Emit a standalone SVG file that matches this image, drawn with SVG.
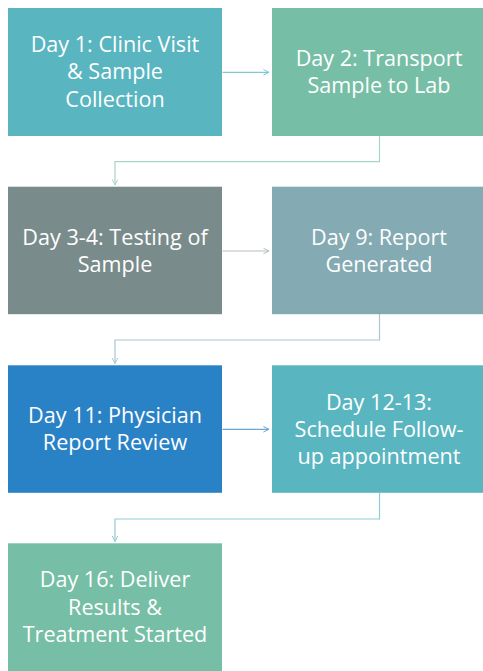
<svg xmlns="http://www.w3.org/2000/svg" width="483" height="671" viewBox="0 0 483 671">
<defs>
<style>
.box text{font-family:"Open Sans","Liberation Sans",sans-serif;font-size:21.6px;fill:#ffffff;text-anchor:middle}
.conn path{fill:none;stroke-width:1.2}
</style>
<marker id="a1" viewBox="0 0 10 10" refX="9" refY="5" markerWidth="7" markerHeight="7" markerUnits="userSpaceOnUse" orient="auto"><path d="M1,1 L9,5 L1,9" fill="none" stroke="#7fcad2" stroke-width="1.4"/></marker>
<marker id="e1" viewBox="0 0 10 10" refX="9" refY="5" markerWidth="7" markerHeight="7" markerUnits="userSpaceOnUse" orient="auto"><path d="M1,1 L9,5 L1,9" fill="none" stroke="#a7d6c6" stroke-width="1.4"/></marker>
<marker id="a2" viewBox="0 0 10 10" refX="9" refY="5" markerWidth="7" markerHeight="7" markerUnits="userSpaceOnUse" orient="auto"><path d="M1,1 L9,5 L1,9" fill="none" stroke="#b4bdbd" stroke-width="1.4"/></marker>
<marker id="e2" viewBox="0 0 10 10" refX="9" refY="5" markerWidth="7" markerHeight="7" markerUnits="userSpaceOnUse" orient="auto"><path d="M1,1 L9,5 L1,9" fill="none" stroke="#abc6cc" stroke-width="1.4"/></marker>
<marker id="a3" viewBox="0 0 10 10" refX="9" refY="5" markerWidth="7" markerHeight="7" markerUnits="userSpaceOnUse" orient="auto"><path d="M1,1 L9,5 L1,9" fill="none" stroke="#6aa7d9" stroke-width="1.4"/></marker>
<marker id="e3" viewBox="0 0 10 10" refX="9" refY="5" markerWidth="7" markerHeight="7" markerUnits="userSpaceOnUse" orient="auto"><path d="M1,1 L9,5 L1,9" fill="none" stroke="#92ccd3" stroke-width="1.4"/></marker>
</defs>
<rect width="483" height="671" fill="#ffffff"/>
<g id="connectors" class="conn">
<path d="M222.5,72.3 H269" stroke="#7fcad2" marker-end="url(#a1)"/>
<path d="M379.5,136 V161.7 H115 V185" stroke="#a7d6c6" marker-end="url(#e1)"/>
<path d="M222.5,251 H269" stroke="#b4bdbd" marker-end="url(#a2)"/>
<path d="M379.5,314 V340 H115 V363.5" stroke="#abc6cc" marker-end="url(#e2)"/>
<path d="M222.5,429.3 H269" stroke="#6aa7d9" marker-end="url(#a3)"/>
<path d="M379.5,493 V519 H115 V541.5" stroke="#92ccd3" marker-end="url(#e3)"/>
</g>
<g id="n1" class="box">
<rect x="8" y="8" width="214" height="128" fill="#59b5bf"/>
<text x="115" y="51.7">Day 1: Clinic Visit</text>
<text x="115" y="79.3">&amp; Sample</text>
<text x="115" y="106.7">Collection</text>
</g>
<g id="n2" class="box">
<rect x="272" y="8" width="214" height="128" fill="#76bea5"/>
<text x="379" y="66">Day 2: Transport</text>
<text x="379" y="93">Sample to Lab</text>
</g>
<g id="n3" class="box">
<rect x="8" y="186.7" width="214" height="127.5" fill="#7a8b8b"/>
<text x="115" y="244.6">Day 3-4: Testing of</text>
<text x="115" y="271.7">Sample</text>
</g>
<g id="n4" class="box">
<rect x="272" y="186.7" width="214" height="127.5" fill="#84aab3"/>
<text x="379" y="244.6">Day 9: Report</text>
<text x="379" y="271.7">Generated</text>
</g>
<g id="n5" class="box">
<rect x="8" y="365.3" width="214" height="127.5" fill="#2a82c6"/>
<text x="115" y="423.2">Day 11: Physician</text>
<text x="115" y="450.2">Report Review</text>
</g>
<g id="n6" class="box">
<rect x="272" y="365.3" width="214" height="127.5" fill="#59b5bf"/>
<text x="379" y="409.5">Day 12-13:</text>
<text x="379" y="436.8">Schedule Follow-</text>
<text x="379" y="464">up appointment</text>
</g>
<g id="n7" class="box">
<rect x="8" y="543.3" width="214" height="130" fill="#76bea5"/>
<text x="115" y="587.3">Day 16: Deliver</text>
<text x="115" y="614.5">Results &amp;</text>
<text x="115" y="641.8">Treatment Started</text>
</g>
</svg>
